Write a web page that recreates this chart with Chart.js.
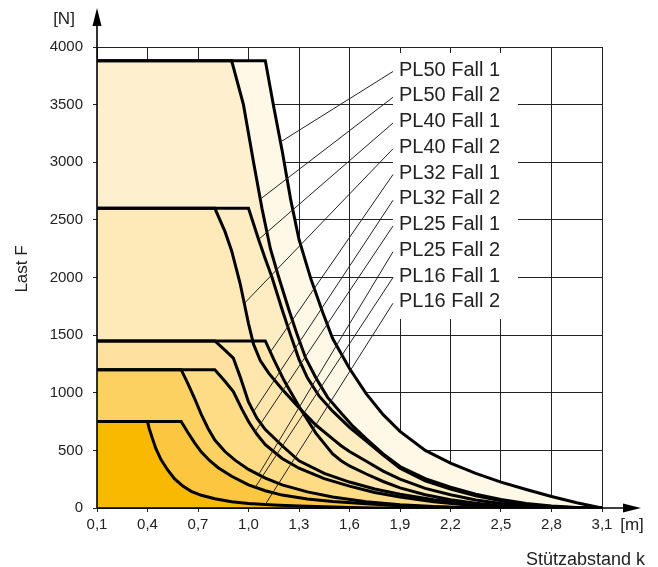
<!DOCTYPE html>
<html>
<head>
<meta charset="utf-8">
<script src="https://cdn.jsdelivr.net/npm/chart.js@4.4.0/dist/chart.umd.min.js"></script>
<style>
  html, body { margin: 0; padding: 0; background: #fff; }
  #wrap { width: 658px; height: 567px; }
</style>
</head>
<body>
<div id="wrap"><canvas id="chart" width="658" height="567"></canvas></div>
<script>
  // ===== DATA ([Stützabstand k in m, Last F in N]) =====
  const xTicks = [0.1, 0.4, 0.7, 1.0, 1.3, 1.6, 1.9, 2.2, 2.5, 2.8, 3.1];
  const yTicks = [0, 500, 1000, 1500, 2000, 2500, 3000, 3500, 4000];

  const pl50Fall1 = [[0.1,3880],[1.1,3880],[1.15,3480],[1.2,3100],[1.25,2680],[1.3,2330],[1.37,1990],[1.44,1700],[1.5,1470],[1.6,1210],[1.7,990],[1.8,810],[1.9,665],[2.05,500],[2.2,390],[2.35,300],[2.5,225],[2.65,160],[2.8,100],[2.95,45],[3.1,0]];
  const pl50Fall2 = [[0.1,3880],[0.9,3880],[0.97,3500],[1.03,3000],[1.08,2600],[1.13,2250],[1.18,2000],[1.24,1720],[1.29,1500],[1.34,1300],[1.4,1130],[1.47,960],[1.55,825],[1.62,710],[1.7,600],[1.8,470],[1.9,360],[2.05,255],[2.2,180],[2.35,120],[2.5,75],[2.65,40],[2.8,18],[2.95,4],[3.1,0]];
  const pl40Fall1 = [[0.1,2600],[1.0,2600],[1.06,2330],[1.1,2160],[1.14,2000],[1.2,1720],[1.25,1500],[1.3,1290],[1.35,1130],[1.42,970],[1.5,840],[1.6,700],[1.7,580],[1.8,460],[1.9,345],[2.05,235],[2.2,165],[2.35,105],[2.5,62],[2.65,30],[2.8,10],[2.95,2],[3.05,0],[3.1,0]];
  const pl40Fall2 = [[0.1,2600],[0.8,2600],[0.86,2400],[0.9,2230],[0.95,1950],[1.0,1600],[1.03,1420],[1.07,1280],[1.12,1170],[1.2,1030],[1.3,870],[1.4,720],[1.5,600],[1.55,540],[1.6,490],[1.7,405],[1.8,320],[1.9,250],[2.05,170],[2.2,115],[2.35,70],[2.5,40],[2.65,18],[2.8,5],[2.95,0],[3.1,0]];
  const pl32Fall1 = [[0.1,1450],[1.1,1450],[1.15,1290],[1.21,1110],[1.3,880],[1.4,650],[1.5,470],[1.55,410],[1.6,365],[1.7,295],[1.8,230],[1.9,175],[2.05,115],[2.2,72],[2.35,42],[2.5,20],[2.65,7],[2.8,1],[2.9,0],[3.1,0]];
  const pl32Fall2 = [[0.1,1450],[0.8,1450],[0.86,1370],[0.91,1300],[0.95,1140],[1.0,920],[1.05,780],[1.1,680],[1.2,540],[1.3,410],[1.45,300],[1.6,225],[1.75,165],[1.9,120],[2.1,72],[2.3,36],[2.5,14],[2.7,2],[2.8,0],[3.1,0]];
  const pl25Fall1 = [[0.1,1200],[0.8,1200],[0.86,1100],[0.91,1010],[0.96,860],[1.0,750],[1.05,640],[1.1,550],[1.2,430],[1.3,345],[1.45,255],[1.6,190],[1.75,135],[1.9,95],[2.1,55],[2.3,26],[2.5,8],[2.65,0],[3.1,0]];
  const pl25Fall2 = [[0.1,1200],[0.6,1200],[0.64,1080],[0.68,950],[0.72,810],[0.76,690],[0.8,590],[0.86,490],[0.92,415],[1.0,335],[1.1,260],[1.2,200],[1.35,140],[1.5,95],[1.7,55],[1.9,28],[2.1,12],[2.3,3],[2.5,0],[3.1,0]];
  const pl16Fall1 = [[0.1,750],[0.6,750],[0.64,655],[0.68,565],[0.72,485],[0.77,410],[0.82,350],[0.9,275],[1.0,200],[1.1,150],[1.2,112],[1.35,78],[1.5,56],[1.7,36],[1.9,20],[2.1,9],[2.3,2],[2.45,0],[3.1,0]];
  const pl16Fall2 = [[0.1,750],[0.4,750],[0.41,690],[0.43,600],[0.45,515],[0.48,420],[0.52,330],[0.56,255],[0.61,190],[0.66,145],[0.72,110],[0.8,80],[0.9,54],[1.0,40],[1.15,27],[1.3,18],[1.45,10],[1.6,4],[1.75,0],[3.1,0]];

  // label list top-down, with the k where each leader line meets its curve
  const seriesNames = ["PL50 Fall 1", "PL50 Fall 2", "PL40 Fall 1", "PL40 Fall 2", "PL32 Fall 1",
                       "PL32 Fall 2", "PL25 Fall 1", "PL25 Fall 2", "PL16 Fall 1", "PL16 Fall 2"];
  const seriesData = [pl50Fall1, pl50Fall2, pl40Fall1, pl40Fall2, pl32Fall1,
                      pl32Fall2, pl25Fall1, pl25Fall2, pl16Fall1, pl16Fall2];
  const leaderAt = [1.19, 1.07, 1.06, 0.975, 1.13, 1.03, 1.04, 1.06, 1.04, 1.1];
  const bandColors = ["#FFF8E6", "#FEF0CE", "#FEEDC3", "#FEE9B8", "#FEE6AD",
                      "#FEE1A0", "#FEDB85", "#FDD062", "#FCC640", "#F9B900"];

  const FONT = "'Liberation Sans', Arial, Helvetica, sans-serif";
  const INK = "#222";

  // ===== DATASETS (bottom curve first so every band fills down to the one below) =====
  const datasets = seriesData.map((pts, i) => ({
    label: seriesNames[i],
    data: pts.map(([x, y]) => ({ x, y })),
    showLine: true,
    borderColor: "#000",
    borderWidth: 3,
    pointRadius: 0,
    tension: 0,
    backgroundColor: bandColors[i]
  })).reverse();
  datasets[0].fill = "origin";
  for (let i = 1; i < datasets.length; i++) datasets[i].fill = "-1";

  function valueOn(pts, x) {
    for (let i = 1; i < pts.length; i++) {
      if (x <= pts[i][0]) {
        const [x0, y0] = pts[i - 1], [x1, y1] = pts[i];
        return y0 + (y1 - y0) * (x - x0) / (x1 - x0);
      }
    }
    return pts[pts.length - 1][1];
  }

  // ===== OVERLAY: arrows, axis titles, label box, leader lines =====
  const overlay = {
    id: "overlay",
    afterDraw(chart) {
      const { ctx, chartArea: a, scales: { x, y } } = chart;
      ctx.save();

      // white box behind the curve labels
      const boxL = 393, boxT = a.top + 6, boxW = 125, boxH = 266;
      ctx.fillStyle = "#fff";
      ctx.fillRect(boxL, boxT, boxW, boxH);

      // labels + leaders
      ctx.font = "20px " + FONT;
      ctx.textBaseline = "middle";
      ctx.textAlign = "left";
      seriesNames.forEach((name, i) => {
        const ly = 70 + i * 25.75;
        ctx.fillStyle = INK;
        ctx.fillText(name, boxL + 6, ly);
        const kx = leaderAt[i];
        const tx = x.getPixelForValue(kx), ty = y.getPixelForValue(valueOn(seriesData[i], kx));
        ctx.strokeStyle = INK;
        ctx.lineWidth = 1;
        ctx.beginPath();
        ctx.moveTo(boxL, ly + 1.5);
        ctx.lineTo(tx, ty);
        ctx.stroke();
      });

      // axes with arrows
      ctx.strokeStyle = "#000";
      ctx.fillStyle = "#000";
      ctx.lineWidth = 1.6;
      ctx.beginPath();
      ctx.moveTo(a.left, a.bottom);
      ctx.lineTo(a.left, 20);
      ctx.moveTo(a.left, a.bottom);
      ctx.lineTo(628, a.bottom);
      ctx.stroke();
      ctx.beginPath();
      ctx.moveTo(a.left, 8); ctx.lineTo(a.left - 4.5, 26); ctx.lineTo(a.left + 4.5, 26); ctx.closePath();
      ctx.fill();
      ctx.beginPath();
      ctx.moveTo(641, a.bottom); ctx.lineTo(623, a.bottom - 4.5); ctx.lineTo(623, a.bottom + 4.5); ctx.closePath();
      ctx.fill();

      // units and axis titles
      ctx.fillStyle = INK;
      ctx.font = "17px " + FONT;
      ctx.textAlign = "center";
      ctx.fillText("[N]", 64, 19);
      ctx.fillText("[m]", 632, 525);
      ctx.textAlign = "right";
      ctx.textBaseline = "alphabetic";
      ctx.font = "18px " + FONT;
      ctx.fillText("Stützabstand k", 645, 565);
      ctx.translate(22, 269);
      ctx.rotate(-Math.PI / 2);
      ctx.textAlign = "center";
      ctx.textBaseline = "middle";
      ctx.font = "17px " + FONT;
      ctx.fillText("Last F", 0, 0);
      ctx.restore();
    }
  };

  new Chart(document.getElementById("chart"), {
    type: "scatter",
    data: { datasets },
    options: {
      responsive: false,
      animation: false,
      devicePixelRatio: 1,
      layout: { padding: { top: 47, right: 56, left: 0, bottom: 0 } },
      plugins: {
        legend: { display: false },
        tooltip: { enabled: false },
        filler: { drawTime: "beforeDatasetsDraw" }
      },
      scales: {
        x: {
          type: "linear",
          min: 0.1,
          max: 3.1,
          z: 1,
          afterBuildTicks: s => { s.ticks = xTicks.map(v => ({ value: v })); },
          afterFit: s => { s.height = 59; },
          border: { display: false },
          grid: { color: INK, lineWidth: 1, tickLength: 4 },
          ticks: {
            autoSkip: false,
            maxRotation: 0,
            padding: 4,
            color: INK,
            font: { family: FONT, size: 15 },
            callback: v => v.toFixed(1).replace(".", ",")
          }
        },
        y: {
          min: 0,
          max: 4000,
          z: 1,
          afterBuildTicks: s => { s.ticks = yTicks.map(v => ({ value: v })); },
          afterFit: s => { s.width = 97; },
          border: { display: false },
          grid: { color: INK, lineWidth: 1, tickLength: 4 },
          ticks: {
            padding: 10,
            color: INK,
            font: { family: FONT, size: 15 },
            callback: v => String(v)
          }
        }
      }
    },
    plugins: [overlay]
  });
</script>
</body>
</html>
